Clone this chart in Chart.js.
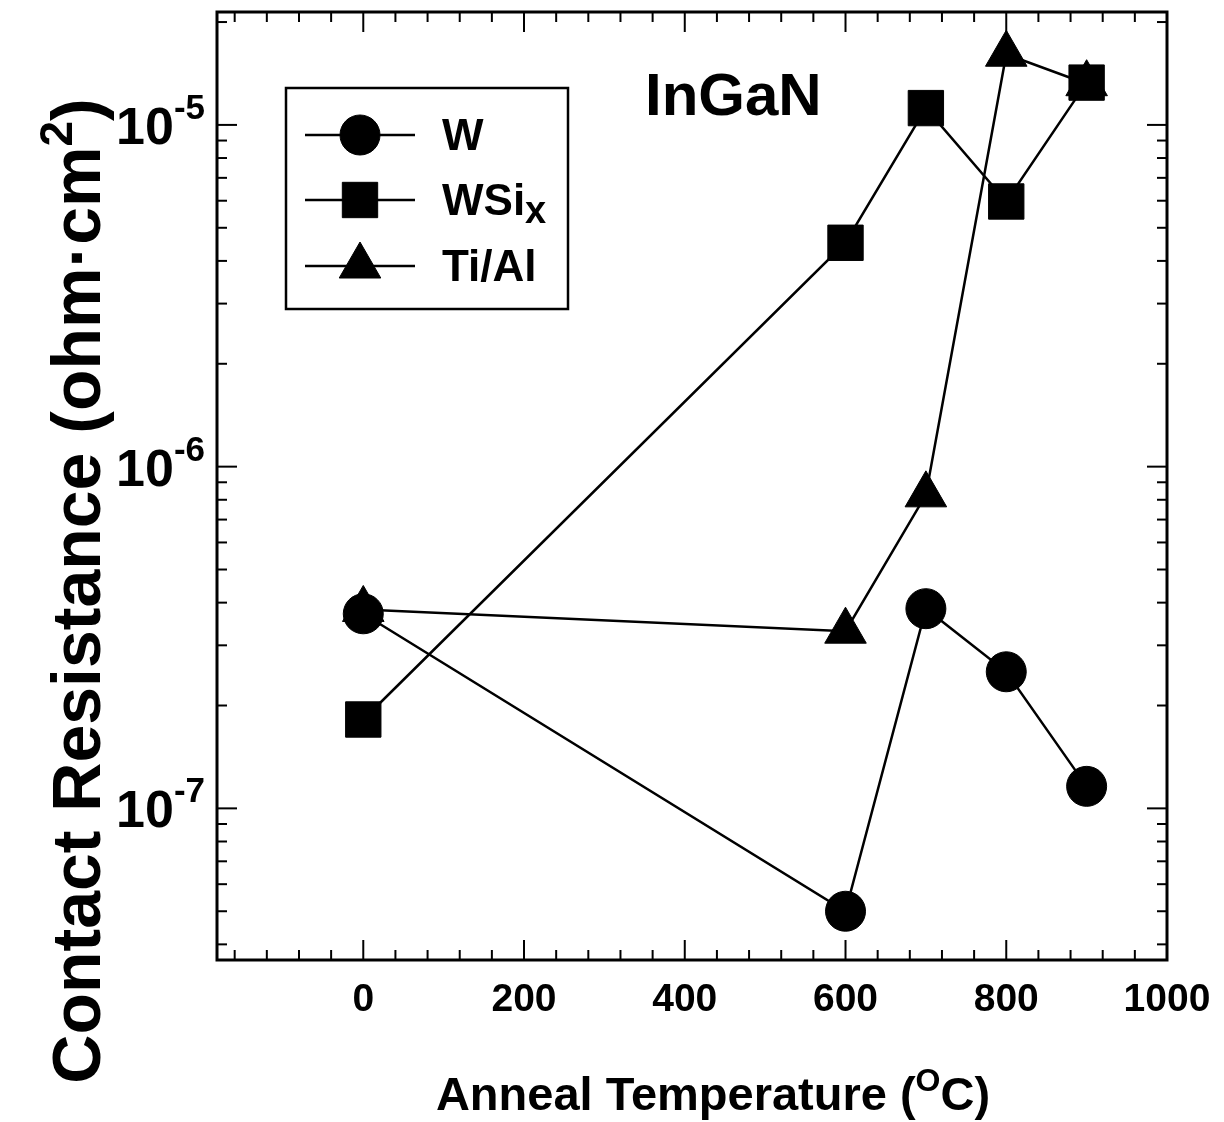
<!DOCTYPE html>
<html>
<head>
<meta charset="utf-8">
<title>InGaN contact resistance vs anneal temperature</title>
<script src="https://cdn.jsdelivr.net/npm/chart.js@4/dist/chart.umd.min.js"></script>
<style>
  html, body { margin: 0; padding: 0; background: #fff; }
  #wrap { width: 1224px; height: 1122px; position: relative; }
  canvas { display: block; }
</style>
</head>
<body>
<div id="wrap"><canvas id="chart" width="1224" height="1122"></canvas></div>
<script>
// Anneal temperatures (°C) and specific contact resistance (ohm·cm²) per metallization
const temperatures = [0, 600, 700, 800, 900];
const wValues      = [3.71e-7, 5.0e-8, 3.84e-7, 2.51e-7, 1.16e-7];
const wsixValues   = [1.82e-7, 4.52e-6, 1.12e-5, 5.97e-6, 1.33e-5];
const tialValues   = [3.82e-7, 3.30e-7, 8.27e-7, 1.61e-5, 1.32e-5];

const seriesNames  = ['W', 'WSi', 'Ti/Al'];
const xTickValues  = [0, 200, 400, 600, 800, 1000];
const xTickLabels  = ['0', '200', '400', '600', '800', '1000'];
const yDecades     = [-7, -6, -5];           // labelled as 10^exponent
const panelLabel   = 'InGaN';

const FONT = '"Liberation Sans", Arial, Helvetica, sans-serif';
const INK = '#000';

function toPoints(xs, ys) { return xs.map((t, i) => ({ x: t, y: ys[i] })); }

// text made of runs, each with its own size and baseline shift (for super/subscripts)
function drawRuns(ctx, runs, x, y, align) {
  let total = 0;
  runs.forEach(r => { ctx.font = 'bold ' + r.size + 'px ' + FONT; r.w = ctx.measureText(r.text).width; total += r.w; });
  let cx = align === 'center' ? x - total / 2 : align === 'right' ? x - total : x;
  ctx.textAlign = 'left';
  ctx.textBaseline = 'alphabetic';
  runs.forEach(r => {
    ctx.font = 'bold ' + r.size + 'px ' + FONT;
    ctx.fillText(r.text, cx, y + (r.dy || 0));
    cx += r.w;
  });
}

function seg(ctx, x1, y1, x2, y2) { ctx.beginPath(); ctx.moveTo(x1, y1); ctx.lineTo(x2, y2); ctx.stroke(); }

const markerStyles = [
  { pointStyle: 'circle',   radius: 20 },
  { pointStyle: 'rect',     radius: 25 },
  { pointStyle: 'triangle', radius: 24 }
];

const framePlugin = {
  id: 'frame',
  beforeDatasetsDraw(chart) {
    const { ctx, chartArea: a, scales: { x, y } } = chart;
    ctx.save();
    ctx.strokeStyle = INK;
    ctx.lineCap = 'butt';
    ctx.lineWidth = 3;
    ctx.strokeRect(a.left, a.top, a.right - a.left, a.bottom - a.top);
    ctx.lineWidth = 2;
    // inward ticks on bottom and top: major every 200, minor every 40
    for (let v = -160; v <= 1000; v += 40) {
      const px = x.getPixelForValue(v);
      if (px < a.left + 3 || px > a.right - 3) continue;
      const len = (v % 200 === 0) ? 20 : 10;
      seg(ctx, px, a.bottom, px, a.bottom - len);
      seg(ctx, px, a.top, px, a.top + len);
    }
    // inward log ticks on left and right
    for (let e = -8; e <= -5; e++) {
      for (let m = 1; m <= 9; m++) {
        const v = m * Math.pow(10, e);
        if (v < y.min || v > y.max) continue;
        const py = y.getPixelForValue(v);
        const len = m === 1 ? 20 : 10;
        seg(ctx, a.left, py, a.left + len, py);
        seg(ctx, a.right, py, a.right - len, py);
      }
    }
    ctx.restore();
  },
  afterDraw(chart) {
    const { ctx, scales: { x, y } } = chart;
    ctx.save();
    ctx.fillStyle = INK;
    ctx.strokeStyle = INK;

    // x tick labels
    xTickValues.forEach((v, i) => {
      drawRuns(ctx, [{ text: xTickLabels[i], size: 39 }], x.getPixelForValue(v), 1011, 'center');
    });
    // y tick labels 10^n
    yDecades.forEach(e => {
      const py = y.getPixelForValue(Math.pow(10, e));
      drawRuns(ctx, [
        { text: '10', size: 52 },
        { text: '-' + Math.abs(e), size: 35, dy: -25 }
      ], 205, py + 19, 'right');
    });

    // axis titles
    drawRuns(ctx, [
      { text: 'Anneal Temperature (', size: 47 },
      { text: 'O', size: 32, dy: -19 },
      { text: 'C)', size: 47 }
    ], 713, 1110, 'center');

    ctx.save();
    ctx.translate(100, 591);
    ctx.rotate(-Math.PI / 2);
    drawRuns(ctx, [
      { text: 'Contact Resistance (ohm\u00B7cm', size: 68 },
      { text: '2', size: 46, dy: -28 },
      { text: ')', size: 68 }
    ], 0, 0, 'center');
    ctx.restore();

    // panel label
    drawRuns(ctx, [{ text: panelLabel, size: 60 }], 645, 115, 'left');

    // legend box
    ctx.lineWidth = 2.5;
    ctx.strokeRect(286, 88, 282, 221);
    const rows = [135, 200, 266];
    const draw = Chart.helpers && Chart.helpers.drawPoint;
    rows.forEach((ry, i) => {
      ctx.lineWidth = 2.5;
      seg(ctx, 305, ry, 415, ry);
      ctx.fillStyle = INK;
      ctx.strokeStyle = INK;
      ctx.lineWidth = 1;
      if (draw) draw(ctx, { pointStyle: markerStyles[i].pointStyle, radius: markerStyles[i].radius, rotation: 0, borderWidth: 1 }, 360, ry);
      ctx.fillStyle = INK;
      if (i === 1) {
        drawRuns(ctx, [{ text: seriesNames[i], size: 44 }, { text: 'x', size: 38, dy: 8 }], 442, ry + 15, 'left');
      } else {
        drawRuns(ctx, [{ text: seriesNames[i], size: 44 }], 442, ry + 15, 'left');
      }
    });
    ctx.restore();
  }
};

function dataset(label, values, style, order) {
  return {
    label,
    data: toPoints(temperatures, values),
    showLine: true,
    borderColor: INK,
    borderWidth: 2.5,
    backgroundColor: INK,
    pointBackgroundColor: INK,
    pointBorderColor: INK,
    pointBorderWidth: 1,
    pointStyle: style.pointStyle,
    pointRadius: style.radius,
    pointHoverRadius: style.radius,
    tension: 0,
    clip: false,
    order
  };
}

new Chart(document.getElementById('chart'), {
  type: 'scatter',
  data: {
    datasets: [
      dataset(seriesNames[0], wValues, markerStyles[0], 2),
      dataset(seriesNames[1] + 'x', wsixValues, markerStyles[1], 1),
      dataset(seriesNames[2], tialValues, markerStyles[2], 3)
    ]
  },
  options: {
    responsive: false,
    animation: false,
    devicePixelRatio: 1,
    layout: { autoPadding: false, padding: { left: 217, right: 57, top: 12, bottom: 162 } },
    plugins: { legend: { display: false }, tooltip: { enabled: false } },
    scales: {
      x: { type: 'linear', min: -182, max: 1000, display: false },
      y: { type: 'logarithmic', min: 3.6e-8, max: 2.14e-5, display: false }
    }
  },
  plugins: [framePlugin]
});
</script>
</body>
</html>
